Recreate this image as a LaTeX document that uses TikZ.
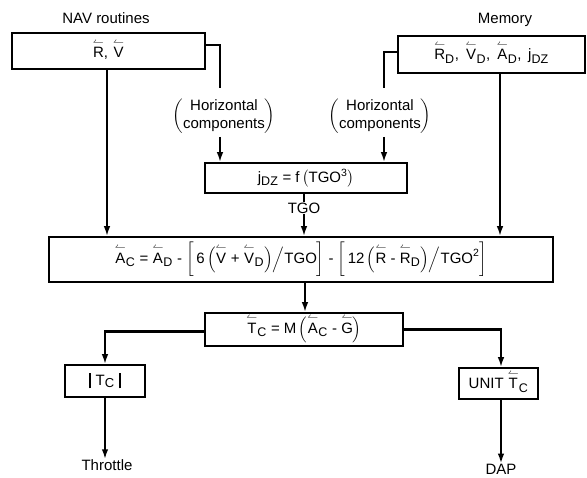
\documentclass[tikz,border=0pt]{standalone}
\usepackage{amsmath}
\usepackage{fontspec}
\setmainfont{Liberation Sans}
\usetikzlibrary{arrows.meta,calc}
\newcommand\vv[1]{\overset{\smash{\raisebox{-1pt}{$\scriptstyle\leftharpoonup$}}}{\text{#1}}}
\newcommand\sub[1]{_{\mbox{\fontsize{12.5}{13}\selectfont #1}}}
\newcommand\vbar{\rule[-3pt]{1.8pt}{15pt}}
\tikzset{
  box/.style={draw, line width=1.5pt, inner sep=0pt, align=center},
  lbl/.style={inner sep=0pt, align=center},
  wire/.style={line width=2.6pt},
  arr/.style={line width=2.6pt, -{Latex[length=10pt,width=6.5pt]}},
  every node/.style={font=\fontsize{15}{18}\selectfont}
}
\begin{document}
\begin{tikzpicture}[x=1pt,y=-1pt]
\useasboundingbox (0,0) rectangle (587,478);
% labels
\node[lbl] (nav) at (106,18) {NAV routines};
\node[lbl] (mem) at (505,20) {Memory};
% top boxes
\node[box, minimum width=193pt, minimum height=36pt] (rv) at (108.5,51) {$\vv{R}$,\,\,$\vv{V}$};
\node[box, minimum width=187pt, minimum height=37pt] (md) at (491.5,54.5)
  {$\vv{R}\sub{D}$,\;\,$\vv{V}\sub{D}$,\;\,$\vv{A}\sub{D}$,\;\,$\text{j}\sub{DZ}$};
% horizontal components
\node[lbl] (hc1) at (224,116) {$\left(\begin{tabular}{@{}c@{}}Horizontal\\components\end{tabular}\right)$};
\node[lbl] (hc2) at (380,116) {$\left(\begin{tabular}{@{}c@{}}Horizontal\\components\end{tabular}\right)$};
\coordinate (h1t) at (220,88);
\coordinate (h1b) at (220,137);
\coordinate (h2t) at (384,88);
\coordinate (h2b) at (384,137);
% jdz box
\node[box, minimum width=202pt, minimum height=30pt] (jdz) at (306,178)
  {$\text{j}\sub{DZ}\ \text{=}\ \text{f}\,\bigl(\text{TGO}^{\text{3}}\bigr)$};
\node[lbl] (tgo) at (304,208) {TGO};
% main box
\node[box, minimum width=504pt, minimum height=45pt] (main) at (301,259.5)
  {$\vv{A}\sub{C}\ \text{=}\ \vv{A}\sub{D}\ \text{-}\ \bigg[\,\text{6}\,\Big(\vv{V}\ \text{+}\ \vv{V}\sub{D}\Big)\Big/\text{TGO}\bigg]\ \text{-}\ \bigg[\,\text{12}\,\Big(\vv{R}\ \text{-}\ \vv{R}\sub{D}\Big)\Big/\text{TGO}^{\text{2}}\bigg]$};
% T_C box
\node[box, minimum width=198pt, minimum height=33pt] (tc) at (304,329.5)
  {$\vv{T}\sub{C}\ \text{=}\ \text{M}\,\Big(\vv{A}\sub{C}\ \text{-}\ \vv{G}\Big)$};
\node[box, minimum width=80pt, minimum height=32pt] (abs) at (105,381)
  {\vbar\,\,T\raisebox{-2pt}{\fontsize{13}{13}\selectfont C}\,\,\vbar};
\node[box, minimum width=79pt, minimum height=31pt] (unit) at (498.5,383.5)
  {UNIT $\vv{T}\sub{C}$};
\node[lbl] (thr) at (107,465) {Throttle};
\node[lbl] (dap) at (501,469) {DAP};
% connectors
\draw[wire] ([yshift=6pt]rv.east) -| (h1t);
\draw[arr] (h1b) -- (h1b |- jdz.north);
\draw[wire] ([yshift=2.5pt]md.west) -| (h2t);
\draw[arr] (h2b) -- (h2b |- jdz.north);
\draw[arr] ([xshift=-1.5pt]rv.south) -- ([xshift=-1.5pt]rv.south |- main.north);
\draw[arr] ([xshift=8.5pt]md.south) -- ([xshift=8.5pt]md.south |- main.north);
\draw[wire] ([xshift=-2pt]jdz.south) -- ([xshift=-2pt]jdz.south |- tgo.north);
\draw[arr] (tgo.south) -- (tgo.south |- main.north);
\draw[arr] ([xshift=1pt]tc.north |- main.south) -- ([xshift=1pt]tc.north);
\draw[arr] ([yshift=-2pt]tc.west) -| (abs.north);
\draw[arr] (tc.east) -| ([xshift=2.5pt]unit.north);
\draw[arr] (abs.south) -- (abs.south |- thr.north);
\draw[arr] ([xshift=2.5pt]unit.south) -- (dap.north);
\end{tikzpicture}
\end{document}
